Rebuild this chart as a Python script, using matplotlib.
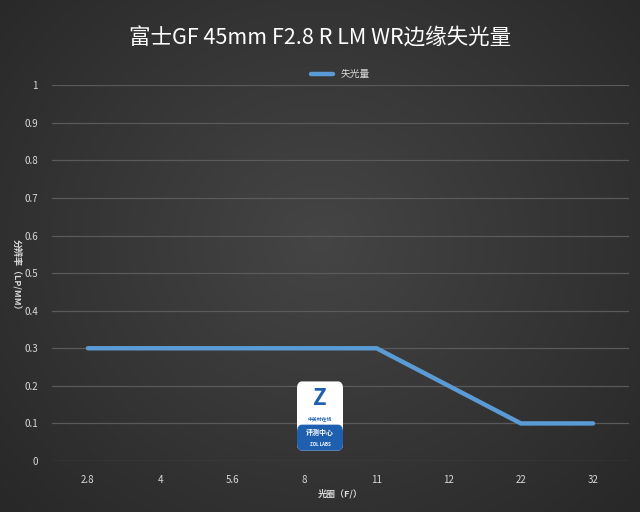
import numpy as np
import matplotlib.pyplot as plt
from matplotlib.patches import FancyBboxPatch

plt.rcParams['font.family'] = ['Noto Sans CJK SC', 'DejaVu Sans']

apertures = ['2.8', '4', '5.6', '8', '11', '12', '22', '32']
falloff = [0.3, 0.3, 0.3, 0.3, 0.3, 0.2, 0.1, 0.1]
yticks = [0, 0.1, 0.2, 0.3, 0.4, 0.5, 0.6, 0.7, 0.8, 0.9, 1]

fig = plt.figure(figsize=(6.4, 5.12), dpi=100)

# radial gradient background
bg = fig.add_axes([0, 0, 1, 1], zorder=-10)
yy, xx = np.mgrid[0:512, 0:640]
r = np.sqrt(((xx - 320) / 420) ** 2 + ((yy - 240) / 380) ** 2)
shade = 0.27 - 0.11 * np.clip(r, 0, 1)
bg.imshow(np.dstack([shade] * 3), aspect='auto', extent=[0, 1, 0, 1])
bg.axis('off')

ax = fig.add_axes([0.081, 0.0996, 0.902, 0.734])
ax.patch.set_alpha(0)
x = np.arange(len(apertures))
ax.plot(x, falloff, color='#5b9bd5', lw=3.2, label='失光量', solid_capstyle='round')
ax.set_xlim(-0.5, len(apertures) - 0.5)
ax.set_ylim(0, 1)
ax.set_xticks(x)
ax.set_xticklabels(apertures)
ax.set_yticks(yticks)
ax.set_yticklabels([f'{v:g}' for v in yticks])
ax.tick_params(colors='#d9d9d9', labelsize=7, length=0, pad=10)
ax.grid(axis='y', color='#5a5a5a', lw=0.9)
for s in ax.spines.values():
    s.set_visible(False)

ax.set_xlabel('光圈（F/）', color='#d9d9d9', fontsize=6.5, fontweight='bold', labelpad=3)
fig.text(0.027, 0.459, '分辨率（LP/MM）', rotation=-90, color='#d9d9d9', fontsize=6.5,
         fontweight='bold', ha='center', va='center')

fig.text(0.5, 0.925, '富士GF 45mm F2.8 R LM WR边缘失光量', color='white', fontsize=15.5,
         ha='center', va='center')
leg = ax.legend(loc='lower center', bbox_to_anchor=(0.5, 1.0), frameon=False, fontsize=7,
                handlelength=2.2, borderaxespad=0.2)
for t in leg.get_texts():
    t.set_color('#d9d9d9')

# ZOL LABS badge
logo = fig.add_axes([295 / 640, 1 - 452 / 512, 50 / 640, 72 / 512])
logo.set_xlim(0, 1)
logo.set_ylim(0, 1)
logo.axis('off')
logo.add_patch(FancyBboxPatch((0.04, 0.02), 0.92, 0.96, boxstyle='round,pad=0,rounding_size=0.1',
                              fc='white', ec='none'))
logo.add_patch(FancyBboxPatch((0.04, 0.02), 0.92, 0.36, boxstyle='round,pad=0,rounding_size=0.1',
                              fc='#1f5fb0', ec='none'))
logo.text(0.5, 0.74, 'Z', color='#1f5fb0', fontsize=16, fontweight='bold', ha='center', va='center')
logo.text(0.5, 0.46, '中关村在线', color='#1f5fb0', fontsize=3.5, fontweight='bold', ha='center', va='center')
logo.text(0.5, 0.27, '评测中心', color='white', fontsize=5, fontweight='bold', ha='center', va='center')
logo.text(0.5, 0.11, 'ZOL LABS', color='white', fontsize=3.2, fontweight='bold', ha='center', va='center')

fig.savefig('out.png', dpi=100)
